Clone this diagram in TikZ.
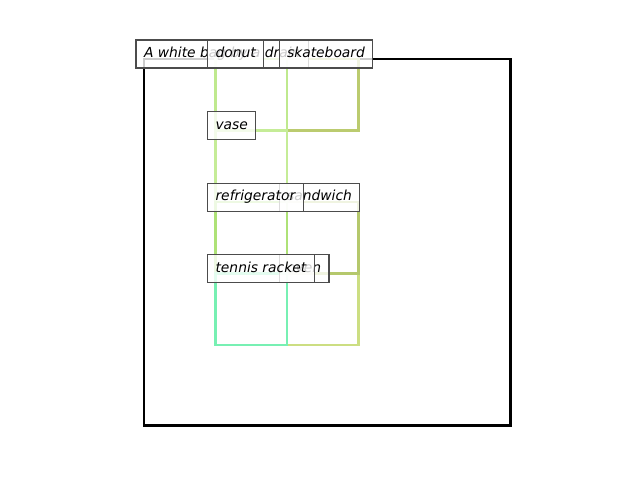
\documentclass[tikz,border=0pt]{standalone}
\usepackage{fontspec}
\setmainfont{DejaVu Sans}
\definecolor{donutcol}{HTML}{BFE98E}
\definecolor{vasecol}{HTML}{C5EC97}
\definecolor{fridgecol}{HTML}{AEE277}
\definecolor{racketcol}{HTML}{77F0B3}
\definecolor{skatecol}{HTML}{BBCB6F}
\definecolor{sandwichcol}{HTML}{B5C86C}
\definecolor{ovencol}{HTML}{CCDE82}

\begin{document}
\begin{tikzpicture}[x=0.254mm, y=-0.254mm,
    box/.style={line width=1.8pt},
    tag/.style={draw=black!70, line width=0.8pt, fill=white, fill opacity=0.8,
      text opacity=1, anchor=west, outer sep=0pt, inner xsep=5.76pt,
      inner ysep=0pt, minimum height=20.2pt, text height=7.6pt,
      text depth=2pt, xshift=-5.76pt, yshift=3.6pt, font=\itshape}]
  \useasboundingbox (0,0) rectangle (640,480);
  \begin{scope}[shift={(144,59)}, scale=0.7155]
    % boxes
    \draw[box, black] (0,0) rectangle (512,512);
    \draw[box, ovencol] (200,300) rectangle (300,400);
    \draw[box, skatecol] (200,0) rectangle (300,100);
    \draw[box, sandwichcol] (200,200) rectangle (300,300);
    \draw[box, donutcol] (100,0) rectangle (200,100);
    \draw[box, vasecol] (100,100) rectangle (200,200);
    \draw[box, fridgecol] (100,200) rectangle (200,300);
    \draw[box, racketcol] (100,300) rectangle (200,400);
    % labels
    \node[tag] (white) at (0,0) {A white bag by a drain};
    \node[tag] (donut) at (100,0) {donut};
    \node[tag] (skate) at (200,0) {skateboard};
    \node[tag] (vase) at (100,100) {vase};
    \node[tag] (sandwich) at (200,200) {sandwich};
    \node[tag] (fridge) at (100,200) {refrigerator};
    \node[tag] (oven) at (200,300) {oven};
    \node[tag] (racket) at (100,300) {tennis racket};
  \end{scope}
\end{tikzpicture}
\end{document}
